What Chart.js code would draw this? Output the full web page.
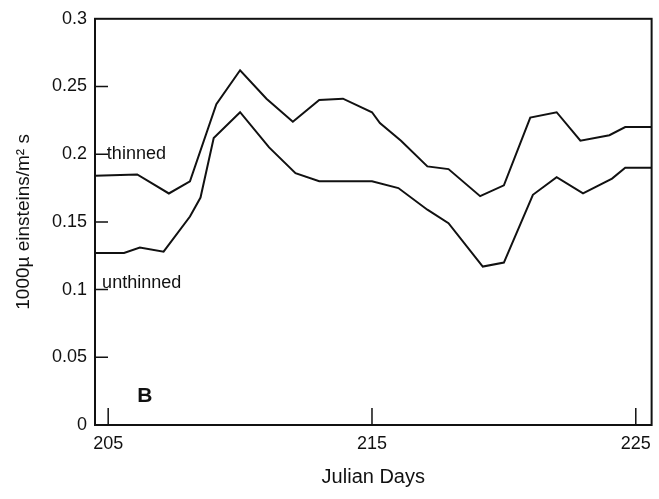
<!DOCTYPE html>
<html>
<head>
<meta charset="utf-8">
<script src="https://cdn.jsdelivr.net/npm/chart.js@4.4.0/dist/chart.umd.min.js"></script>
<style>
  body { margin: 0; background: #fff; }
  canvas { display: block; }
</style>
</head>
<body>
<canvas id="lightChart" width="659" height="499"></canvas>
<script>
// Julian day of each reading, values in 1000µ einsteins/m² s
const thinnedDays = [204.5, 206.1, 207.3, 208.1, 209.1, 210.0, 211.0, 212.0, 213.0, 213.9, 215.0, 215.3, 216.1, 217.1, 217.9, 219.1, 220.0, 221.0, 222.0, 222.9, 224.0, 224.6, 225.6];
const thinnedValues = [0.184, 0.185, 0.171, 0.180, 0.237, 0.262, 0.241, 0.224, 0.240, 0.241, 0.231, 0.223, 0.210, 0.191, 0.189, 0.169, 0.177, 0.227, 0.231, 0.210, 0.214, 0.220, 0.220];

const unthinnedDays = [204.5, 205.6, 206.2, 207.1, 208.1, 208.5, 209.0, 210.0, 211.1, 212.1, 213.0, 215.0, 216.0, 217.1, 217.9, 219.2, 220.0, 221.1, 222.0, 223.0, 224.1, 224.6, 225.6];
const unthinnedValues = [0.127, 0.127, 0.131, 0.128, 0.154, 0.168, 0.212, 0.231, 0.205, 0.186, 0.180, 0.180, 0.175, 0.159, 0.149, 0.117, 0.120, 0.170, 0.183, 0.171, 0.182, 0.190, 0.190];

const xTicks = [205, 215, 225];
const yTicks = [0, 0.05, 0.1, 0.15, 0.2, 0.25, 0.3];

const ink = "#111";
const font = "'Liberation Sans', Arial, sans-serif";

function toPoints(xs, ys) {
  return xs.map((x, i) => ({ x: x, y: ys[i] }));
}

// frame, inward tick marks and the in-plot labels
const framePlugin = {
  id: "frame",
  afterDraw(chart) {
    const ctx = chart.ctx;
    const a = chart.chartArea;
    const x = chart.scales.x;
    const y = chart.scales.y;
    ctx.save();
    ctx.strokeStyle = ink;
    ctx.lineWidth = 2;
    ctx.strokeRect(a.left, a.top, a.right - a.left, a.bottom - a.top);
    ctx.lineWidth = 1.5;
    ctx.beginPath();
    for (const v of yTicks) {
      if (v === 0 || v === 0.3) continue;
      const py = y.getPixelForValue(v);
      ctx.moveTo(a.left, py);
      ctx.lineTo(a.left + 13, py);
    }
    for (const v of xTicks) {
      const px = x.getPixelForValue(v);
      ctx.moveTo(px, a.bottom);
      ctx.lineTo(px, a.bottom - 17);
    }
    ctx.stroke();

    ctx.fillStyle = ink;
    ctx.textBaseline = "middle";
    ctx.textAlign = "left";
    ctx.font = "18px " + font;
    ctx.fillText("thinned", x.getPixelForValue(204.95), y.getPixelForValue(0.2));
    ctx.fillText("unthinned", x.getPixelForValue(204.77), y.getPixelForValue(0.105));
    ctx.font = "bold 21px " + font;
    ctx.fillText("B", x.getPixelForValue(206.1), y.getPixelForValue(0.021));
    ctx.restore();
  }
};

new Chart(document.getElementById("lightChart"), {
  type: "line",
  data: {
    datasets: [
      {
        label: "thinned",
        data: toPoints(thinnedDays, thinnedValues),
        borderColor: ink,
        borderWidth: 2,
        pointRadius: 0,
        tension: 0,
        fill: false,
      },
      {
        label: "unthinned",
        data: toPoints(unthinnedDays, unthinnedValues),
        borderColor: ink,
        borderWidth: 2,
        pointRadius: 0,
        tension: 0,
        fill: false,
      },
    ],
  },
  options: {
    responsive: false,
    animation: false,
    layout: { padding: { top: 18, right: 7, left: 0, bottom: 0 } },
    plugins: { legend: { display: false }, tooltip: { enabled: false } },
    scales: {
      x: {
        type: "linear",
        min: 204.5,
        max: 225.6,
        grid: { display: false, drawTicks: false },
        border: { display: false },
        afterBuildTicks: s => { s.ticks = xTicks.map(v => ({ value: v })); },
        afterFit: s => { s.height = 74; },
        ticks: {
          color: ink,
          padding: 8,
          maxRotation: 0,
          font: { family: font, size: 18 },
          callback: v => String(v),
        },
        title: {
          display: true,
          text: "Julian Days",
          color: ink,
          padding: { top: 0, bottom: 10 },
          font: { family: font, size: 20 },
        },
      },
      y: {
        min: 0,
        max: 0.3,
        grid: { display: false, drawTicks: false },
        border: { display: false },
        afterBuildTicks: s => { s.ticks = yTicks.map(v => ({ value: v })); },
        afterFit: s => { s.width = 95; },
        ticks: {
          color: ink,
          padding: 8,
          font: { family: font, size: 18 },
          callback: v => String(+v.toFixed(2)),
        },
        title: {
          display: true,
          text: "1000µ einsteins/m² s",
          color: ink,
          padding: { top: 12, bottom: 0 },
          font: { family: font, size: 19 },
        },
      },
    },
  },
  plugins: [framePlugin],
});
</script>
</body>
</html>
